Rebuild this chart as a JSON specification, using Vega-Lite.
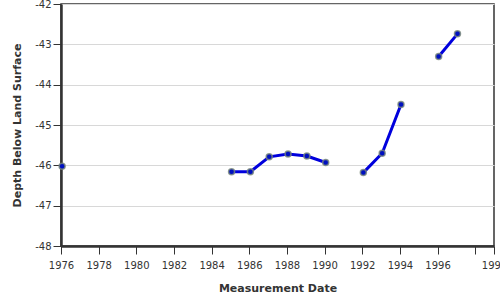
{
  "$schema": "https://vega.github.io/schema/vega-lite/v6.json",
  "width": 433,
  "height": 242,
  "autosize": {"type": "none"},
  "padding": {"left": 61, "top": 4, "right": 6, "bottom": 54},
  "background": "white",
  "config": {
    "view": {"stroke": "#333", "strokeWidth": 1.5},
    "font": "DejaVu Sans",
    "axis": {
      "labelFont": "DejaVu Sans",
      "titleFont": "DejaVu Sans",
      "labelFontSize": 10,
      "labelColor": "#333",
      "titleFontSize": 11,
      "titleFontWeight": "bold",
      "titleColor": "#333",
      "domainColor": "#333",
      "domainWidth": 2.5,
      "tickColor": "#333",
      "tickWidth": 1,
      "tickSize": 8,
      "labelPadding": 3,
      "gridColor": "#d8d8d8",
      "gridWidth": 1
    }
  },
  "data": {
    "values": [
      {"year": 1976.06, "depth": -46.02, "seg": "a"},
      {"year": 1985.06, "depth": -46.16, "seg": "b"},
      {"year": 1986.06, "depth": -46.16, "seg": "b"},
      {"year": 1987.06, "depth": -45.79, "seg": "b"},
      {"year": 1988.06, "depth": -45.72, "seg": "b"},
      {"year": 1989.06, "depth": -45.77, "seg": "b"},
      {"year": 1990.06, "depth": -45.93, "seg": "b"},
      {"year": 1992.06, "depth": -46.18, "seg": "c"},
      {"year": 1993.06, "depth": -45.70, "seg": "c"},
      {"year": 1994.06, "depth": -44.49, "seg": "c"},
      {"year": 1996.06, "depth": -43.30, "seg": "d"},
      {"year": 1997.06, "depth": -42.74, "seg": "d"}
    ]
  },
  "encoding": {
    "x": {
      "field": "year",
      "type": "quantitative",
      "scale": {"domain": [1976, 1999], "nice": false, "zero": false},
      "axis": {
        "title": "Measurement Date",
        "values": [1976, 1978, 1980, 1982, 1984, 1986, 1988, 1990, 1992, 1994, 1996, 1998, 1999],
        "labelExpr": "datum.value == 1998 ? '' : toString(datum.value)",
        "labelOverlap": false,
        "labelFlush": false,
        "labelPadding": 6,
        "grid": false,
        "titlePadding": 12
      }
    },
    "y": {
      "field": "depth",
      "type": "quantitative",
      "scale": {"domain": [-48, -42], "nice": false, "zero": false},
      "axis": {
        "title": "Depth Below Land Surface",
        "values": [-48, -47, -46, -45, -44, -43, -42],
        "labelExpr": "'-' + toString(abs(datum.value))",
        "labelFlush": false,
        "labelPadding": 2,
        "grid": true,
        "titlePadding": 12
      }
    }
  },
  "layer": [
    {
      "mark": {"type": "line", "color": "#0000dd", "strokeWidth": 3},
      "encoding": {"detail": {"field": "seg"}}
    },
    {
      "mark": {"type": "point", "filled": true, "fill": "#0010c0", "stroke": "#7a8a7a", "strokeWidth": 1.5, "strokeOpacity": 0.8, "fillOpacity": 1, "size": 36}
    }
  ]
}
